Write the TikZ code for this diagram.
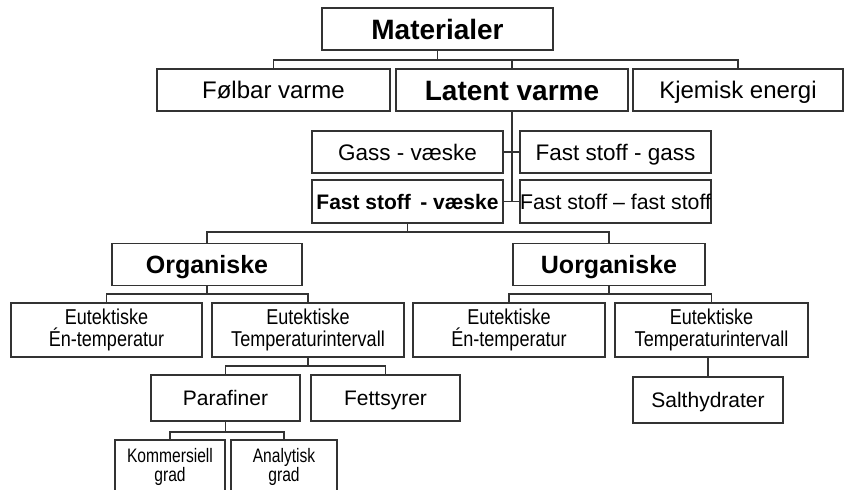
\documentclass[tikz,border=0pt]{standalone}
\usepackage{fontspec}
\setmainfont{Liberation Sans}
\newfontfamily\narrowfont{Liberation Sans}[FakeStretch=0.84]
\newfontfamily\tightfont{Liberation Sans}[FakeStretch=0.80]
\usepackage{tikz}
\usetikzlibrary{backgrounds}
\pgfdeclarelayer{edgelayer}
\pgfdeclarelayer{nodelayer}
\pgfsetlayers{edgelayer,nodelayer,main}
\tikzstyle{none}=[inner sep=0pt]
\tikzstyle{box}=[rectangle,draw=black!80,line width=1.7,fill=white,inner sep=0pt,align=center,text=black]
\tikzstyle{headbox}=[box,font=\fontsize{28}{30}\selectfont\bfseries,text height=20pt,text depth=0pt]
\tikzstyle{groupbox}=[box,font=\fontsize{25}{28}\selectfont\bfseries,text height=18pt,text depth=0pt]
\tikzstyle{kindbox}=[box,font=\fontsize{24}{28}\selectfont,text height=17.3pt,text depth=0pt]
\tikzstyle{phasebox}=[box,font=\fontsize{22.5}{26}\selectfont,text height=16.2pt,text depth=0pt]
\tikzstyle{eutbox}=[box,font=\narrowfont\fontsize{21.5}{21.5}\selectfont]
\tikzstyle{sortbox}=[box,font=\fontsize{21}{24}\selectfont,text height=15.1pt,text depth=0pt]
\tikzstyle{gradebox}=[box,font=\tightfont\fontsize{19.5}{19}\selectfont]
\tikzstyle{link}=[-,draw=black!80,line width=1.6]

\begin{document}
\begin{tikzpicture}[x=1pt,y=-1pt]
	\useasboundingbox (0,0) rectangle (852,490);
	\clip (0,0) rectangle (852,490);
	\begin{pgfonlayer}{nodelayer}
		\node [style=headbox, minimum width=231, minimum height=42] (mat) at (437.5, 29) {Materialer};

		\node [style=kindbox, minimum width=233, minimum height=42] (fol) at (273.5, 90) {Følbar varme};
		\node [style=headbox, minimum width=232, minimum height=42] (lat) at (512, 90) {Latent varme};
		\node [style=kindbox, minimum width=210, minimum height=42] (kje) at (738, 90) {Kjemisk energi};

		\node [style=phasebox, minimum width=191, minimum height=42] (gas) at (407.5, 152) {Gass - væske};
		\node [style=phasebox, minimum width=191, minimum height=42] (fsg) at (615.5, 152) {Fast stoff - gass};
		\node [style=phasebox, font=\fontsize{21}{26}\selectfont\bfseries, text height=15.1pt, minimum width=191, minimum height=43] (fsv) at (407.5, 201.5) {Fast stoff\, - væske};
		\node [style=phasebox, font=\fontsize{21.3}{26}\selectfont, text height=15.3pt, minimum width=191, minimum height=43] (fsf) at (615.5, 201.5) {Fast stoff – fast stoff};

		\node [style=groupbox, minimum width=190, minimum height=42] (org) at (207, 264.5) {Organiske};
		\node [style=groupbox, minimum width=192, minimum height=42] (uorg) at (609, 264.5) {Uorganiske};

		\node [style=eutbox, minimum width=191, minimum height=54] (oe1) at (106.5, 330) {Eutektiske\\Én-temperatur};
		\node [style=eutbox, minimum width=192, minimum height=54] (oe2) at (308, 330) {Eutektiske\\Temperaturintervall};
		\node [style=eutbox, minimum width=192, minimum height=54] (ue1) at (509, 330) {Eutektiske\\Én-temperatur};
		\node [style=eutbox, minimum width=193, minimum height=54] (ue2) at (711.5, 330) {Eutektiske\\Temperaturintervall};

		\node [style=sortbox, minimum width=149, minimum height=46] (par) at (225.5, 398) {Parafiner};
		\node [style=sortbox, minimum width=149, minimum height=46] (fet) at (385.5, 398) {Fettsyrer};
		\node [style=sortbox, minimum width=150, minimum height=46] (sal) at (708, 400) {Salthydrater};

		\node [style=gradebox, minimum width=110, minimum height=54] (kom) at (170, 467) {Kommersiell\\grad};
		\node [style=gradebox, minimum width=106, minimum height=54] (ana) at (284, 467) {Analytisk\\grad};

		\coordinate (matbus) at (437.5, 60);
		\coordinate (latend) at (512, 201.5);
		\coordinate (fsvbus) at (407.5, 232);
		\coordinate (orgbus) at (207, 294);
		\coordinate (uorgbus) at (609, 294);
		\coordinate (oe2bus) at (308, 366);
		\coordinate (parbus) at (225.5, 432);
	\end{pgfonlayer}
	\begin{pgfonlayer}{edgelayer}
		\draw [style=link] (mat.south) to (matbus);
		\draw [style=link] (matbus) -| (fol.north);
		\draw [style=link] (matbus) -| (lat.north);
		\draw [style=link] (matbus) -| (kje.north);
		\draw [style=link] (lat.south) to (latend);
		\draw [style=link] (gas.east) to (fsg.west);
		\draw [style=link] (fsv.east) to (fsf.west);
		\draw [style=link] (fsv.south) to (fsvbus);
		\draw [style=link] (fsvbus) -| (org.north);
		\draw [style=link] (fsvbus) -| (uorg.north);
		\draw [style=link] (org.south) to (orgbus);
		\draw [style=link] (orgbus) -| (oe1.north);
		\draw [style=link] (orgbus) -| (oe2.north);
		\draw [style=link] (uorg.south) to (uorgbus);
		\draw [style=link] (uorgbus) -| (ue1.north);
		\draw [style=link] (uorgbus) -| (ue2.north);
		\draw [style=link] (oe2.south) to (oe2bus);
		\draw [style=link] (oe2bus) -| (par.north);
		\draw [style=link] (oe2bus) -| (fet.north);
		\draw [style=link] (sal.north |- ue2.south) to (sal.north);
		\draw [style=link] (par.south) to (parbus);
		\draw [style=link] (parbus) -| (kom.north);
		\draw [style=link] (parbus) -| (ana.north);
	\end{pgfonlayer}
\end{tikzpicture}
\end{document}
